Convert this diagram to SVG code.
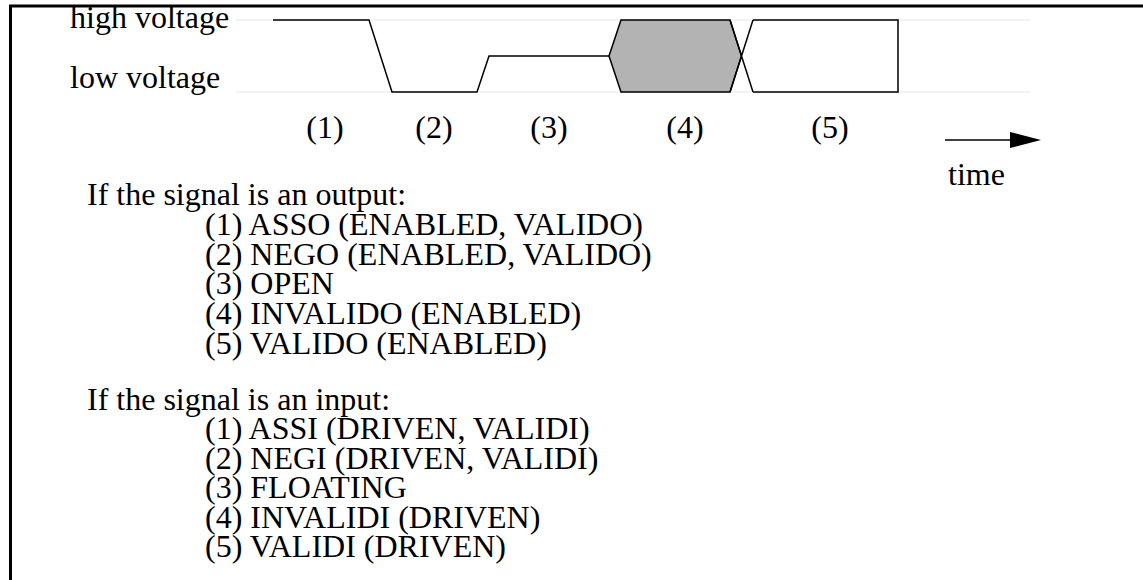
<svg xmlns="http://www.w3.org/2000/svg" width="1143" height="580" viewBox="0 0 1143 580">
<style>
text{font-family:"Liberation Serif","Times New Roman",serif;font-size:32px;fill:#000}
.wave{fill:none;stroke:#000;stroke-width:1.5}
.guide{stroke:#efefef;stroke-width:1.5}
</style>
<rect width="1143" height="580" fill="#fff"/>
<path d="M10.5,580 V6 H1143" fill="none" stroke="#000" stroke-width="3"/>
<g id="guides">
<line class="guide" x1="236" y1="20" x2="1030" y2="20"/>
<line class="guide" x1="236" y1="92" x2="1030" y2="92"/>
</g>
<g id="labels-voltage">
<text x="70" y="28">high voltage</text>
<text x="70" y="88">low voltage</text>
</g>
<g id="waveform">
<polygon points="609,56 621,20 730,20 741.5,56 730,92 621,92" fill="#b3b3b3" stroke="#000" stroke-width="1.5"/>
<path class="wave" d="M273,20 H369 L392,92 H477 L489,56 H609"/>
<path class="wave" d="M730,20 L753,92 M730,92 L753,20 M753,20 H898 V92 H753"/>
</g>
<g id="phase-labels" text-anchor="middle">
<text x="325" y="138">(1)</text>
<text x="434" y="138">(2)</text>
<text x="549" y="138">(3)</text>
<text x="685" y="138">(4)</text>
<text x="830" y="138">(5)</text>
</g>
<g id="time-axis">
<line x1="945" y1="140" x2="1012" y2="140" stroke="#000" stroke-width="1.5"/>
<polygon points="1010,132 1041,140 1010,148" fill="#000"/>
<text x="948" y="185">time</text>
</g>
<g id="output-list">
<text x="87" y="205">If the signal is an output:</text>
<text x="205" y="235">(1) ASSO (ENABLED, VALIDO)</text>
<text x="205" y="265">(2) NEGO (ENABLED, VALIDO)</text>
<text x="205" y="294">(3) OPEN</text>
<text x="205" y="324">(4) INVALIDO (ENABLED)</text>
<text x="205" y="354">(5) VALIDO (ENABLED)</text>
</g>
<g id="input-list">
<text x="87" y="410">If the signal is an input:</text>
<text x="205" y="439">(1) ASSI (DRIVEN, VALIDI)</text>
<text x="205" y="469">(2) NEGI (DRIVEN, VALIDI)</text>
<text x="205" y="498">(3) FLOATING</text>
<text x="205" y="528">(4) INVALIDI (DRIVEN)</text>
<text x="205" y="557">(5) VALIDI (DRIVEN)</text>
</g>
</svg>
